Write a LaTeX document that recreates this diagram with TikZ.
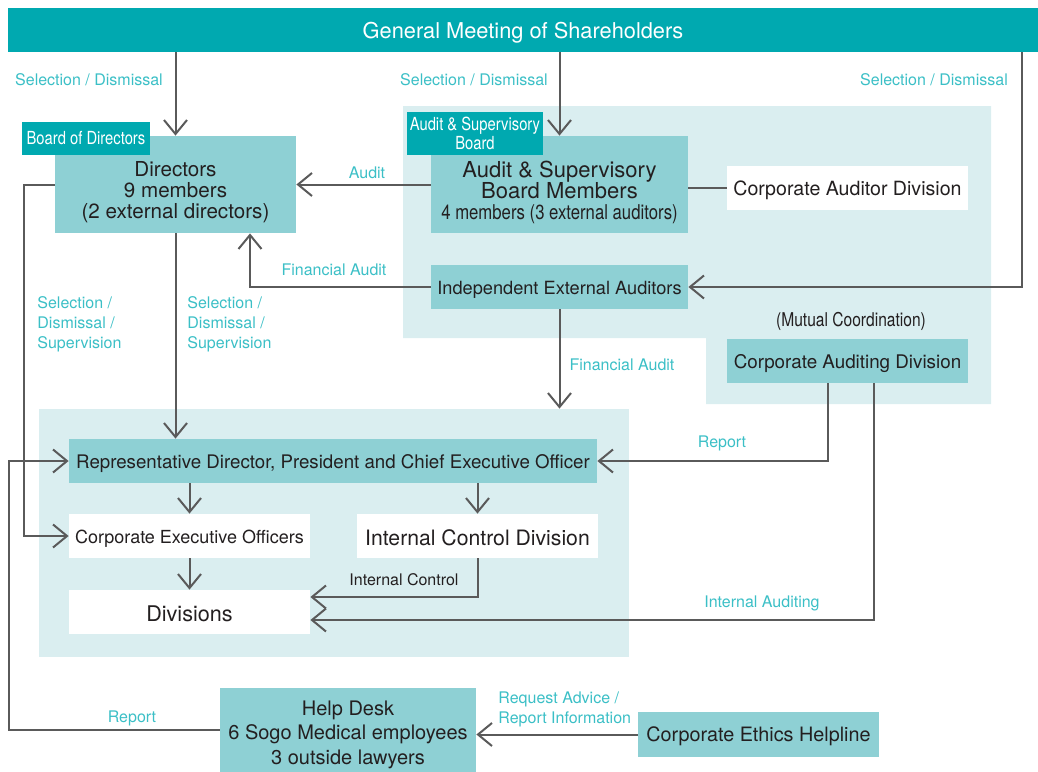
\documentclass[tikz,border=0pt]{standalone}
\usepackage{fontspec}
\setmainfont{TeX Gyre Heros}
\newfontfamily\cond[FakeStretch=0.82]{TeX Gyre Heros}
\usepackage{tikz}
\usetikzlibrary{
  	positioning,
  	arrows.meta,
  	calc
  }
\definecolor{tealdark}{HTML}{00A9B0}
\definecolor{tealmid}{HTML}{8ED0D4}
\definecolor{teallight}{HTML}{DAEEF0}
\definecolor{tealtxt}{HTML}{3BBFC6}
\definecolor{linegray}{HTML}{5A5A5A}
\definecolor{ink}{HTML}{231F20}
\tikzstyle{midbox}=[fill=tealmid,text=ink,inner sep=0pt,align=center,execute at begin node=\rule{0pt}{9.5pt}]
\tikzstyle{whitebox}=[fill=white,text=ink,inner sep=0pt,align=center,execute at begin node=\rule{0pt}{9.5pt}]
\tikzstyle{tabbox}=[fill=tealdark,text=white,inner sep=0pt,align=center]
\tikzstyle{bgbox}=[fill=teallight,inner sep=0pt]
\tikzstyle{lbl}=[text=tealtxt,inner sep=0pt,font=\fontsize{8}{10}\selectfont]
\tikzstyle{conn}=[draw=linegray,line width=1pt,-{Straight Barb[length=7pt,width=11.5pt,line width=1pt]}]
\tikzstyle{plain}=[draw=linegray,line width=1pt]

\begin{document}
\begin{tikzpicture}[x=0.5pt,y=-0.5pt]
  \useasboundingbox (0,0) rectangle (1038,771);
%
  \fill[teallight] (403,106) -- (991,106) -- (991,404) -- (706,404) -- (706,338) -- (403,338) -- cycle;
  \node[bgbox, minimum width=295pt, minimum height=124pt] (execbg) at (334,533) {};
%
  \node[tabbox, minimum width=515pt, minimum height=22pt, font=\fontsize{10.9}{12}\selectfont] (gms) at (523,30) {\rule{0pt}{10.5pt}General Meeting of Shareholders};
  \node[midbox, minimum width=120.5pt, minimum height=48.5pt, font=\fontsize{10.3}{10.5}\selectfont] (dirs) at (175.5,184.5) {\rule{0pt}{15.5pt}Directors\\9 members\\(2 external directors)};
  \node[tabbox, minimum width=64pt, minimum height=16.5pt, font=\cond\fontsize{9}{9.5}\selectfont] (bod) at (86,138.5) {Board of Directors};
  \node[midbox, minimum width=128.5pt, minimum height=48.5pt, font=\fontsize{11}{10.5}\selectfont] (asb) at (559.5,184.5) {\rule{0pt}{16pt}Audit \& Supervisory\\Board Members\\{\cond\fontsize{10.2}{10.5}\selectfont 4 members (3 external auditors)}};
  \node[tabbox, minimum width=68pt, minimum height=21.5pt, font=\cond\fontsize{9}{9.5}\selectfont] (asbtab) at (475,133.5) {Audit \& Supervisory\\Board};
  \node[whitebox, minimum width=120.5pt, minimum height=22pt, font=\fontsize{9.8}{12}\selectfont] (cad) at (847.5,188) {Corporate Auditor Division};
  \node[midbox, minimum width=128.5pt, minimum height=22pt, font=\fontsize{9.1}{12}\selectfont] (iea) at (559.5,287) {Independent External Auditors};
  \node[midbox, minimum width=120.5pt, minimum height=22pt, font=\fontsize{9.4}{12}\selectfont] (caud) at (847.5,361) {Corporate Auditing Division};
  \node[text=ink, inner sep=0pt, font=\cond\fontsize{9.5}{11}\selectfont] (mutual) at (851,321) {(Mutual Coordination)};
%
  \node[midbox, minimum width=264pt, minimum height=22pt, font=\fontsize{9.35}{12}\selectfont] (rep) at (333,461) {Representative Director, President and Chief Executive Officer};
  \node[whitebox, minimum width=120.5pt, minimum height=22pt, font=\fontsize{9}{12}\selectfont] (ceo) at (189.5,536) {Corporate Executive Officers};
  \node[whitebox, minimum width=120.5pt, minimum height=22pt, font=\fontsize{10.6}{12}\selectfont] (icd) at (477.5,536) {Internal Control Division};
  \node[whitebox, minimum width=120.5pt, minimum height=22pt, font=\fontsize{10.8}{12}\selectfont] (div) at (189.5,612) {Divisions};
  \node[midbox, minimum width=128pt, minimum height=42pt, font=\fontsize{10}{12.25}\selectfont] (help) at (348,730) {\rule{0pt}{12pt}Help Desk\\6 Sogo Medical employees\\3 outside lawyers};
  \node[midbox, minimum width=120.5pt, minimum height=22.5pt, font=\fontsize{9.9}{12}\selectfont] (ethics) at (758.5,734.5) {Corporate Ethics Helpline};
%
  \draw[conn] (dirs.north |- gms.south) -- (dirs.north);
  \draw[conn] (asb.north |- gms.south) -- (asb.north);
  \draw[conn] ($(gms.south east)+(-16,0)$) |- (iea.east);
  \draw[conn] (asb.west) -- (dirs.east);
  \draw[plain] (cad.west -| asb.east) -- (cad.west);
  \draw[conn] (iea.west) -| ($(dirs.south)+(74.5,0)$);
  \draw[conn] (iea.south) -- (iea.south |- execbg.north);
  \draw[conn] (dirs.south) -- (dirs.south |- rep.north);
  \draw[conn] (dirs.west) -- ++(-31,0) |- (ceo.west);
  \draw[conn] ($(caud.south)+(-19.5,0)$) |- (rep.east);
  \draw[conn] ($(caud.south)+(26.5,0)$) |- ($(div.east)+(0,8)$);
  \draw[conn] (ceo.north |- rep.south) -- (ceo.north);
  \draw[conn] (icd.north |- rep.south) -- (icd.north);
  \draw[conn] (ceo.south) -- (div.north);
  \draw[conn] (icd.south) |- ($(div.east)+(0,-15)$);
  \draw[conn] (help.west) -- ++(-211,0) |- (rep.west);
  \draw[conn] (ethics.west) -- (ethics.west -| help.east);
%
  \node[lbl] at (89,80) {Selection / Dismissal};
  \node[lbl] at (474,80) {Selection / Dismissal};
  \node[lbl] at (934,80) {Selection / Dismissal};
  \node[lbl] at (367,173) {Audit};
  \node[lbl] at (334,270) {Financial Audit};
  \node[lbl] at (622,365) {Financial Audit};
  \node[lbl, align=left, anchor=west] at (37,324) {Selection /\\Dismissal /\\Supervision};
  \node[lbl, align=left, anchor=west] at (187,324) {Selection /\\Dismissal /\\Supervision};
  \node[lbl] at (722,443) {Report};
  \node[lbl] at (762,603) {Internal Auditing};
  \node[text=ink, inner sep=0pt, font=\fontsize{8}{9}\selectfont] at (404,580) {Internal Control};
  \node[lbl] at (132,718) {Report};
  \node[lbl, align=left, anchor=west] at (498,709) {Request Advice /\\Report Information};
\end{tikzpicture}
\end{document}
